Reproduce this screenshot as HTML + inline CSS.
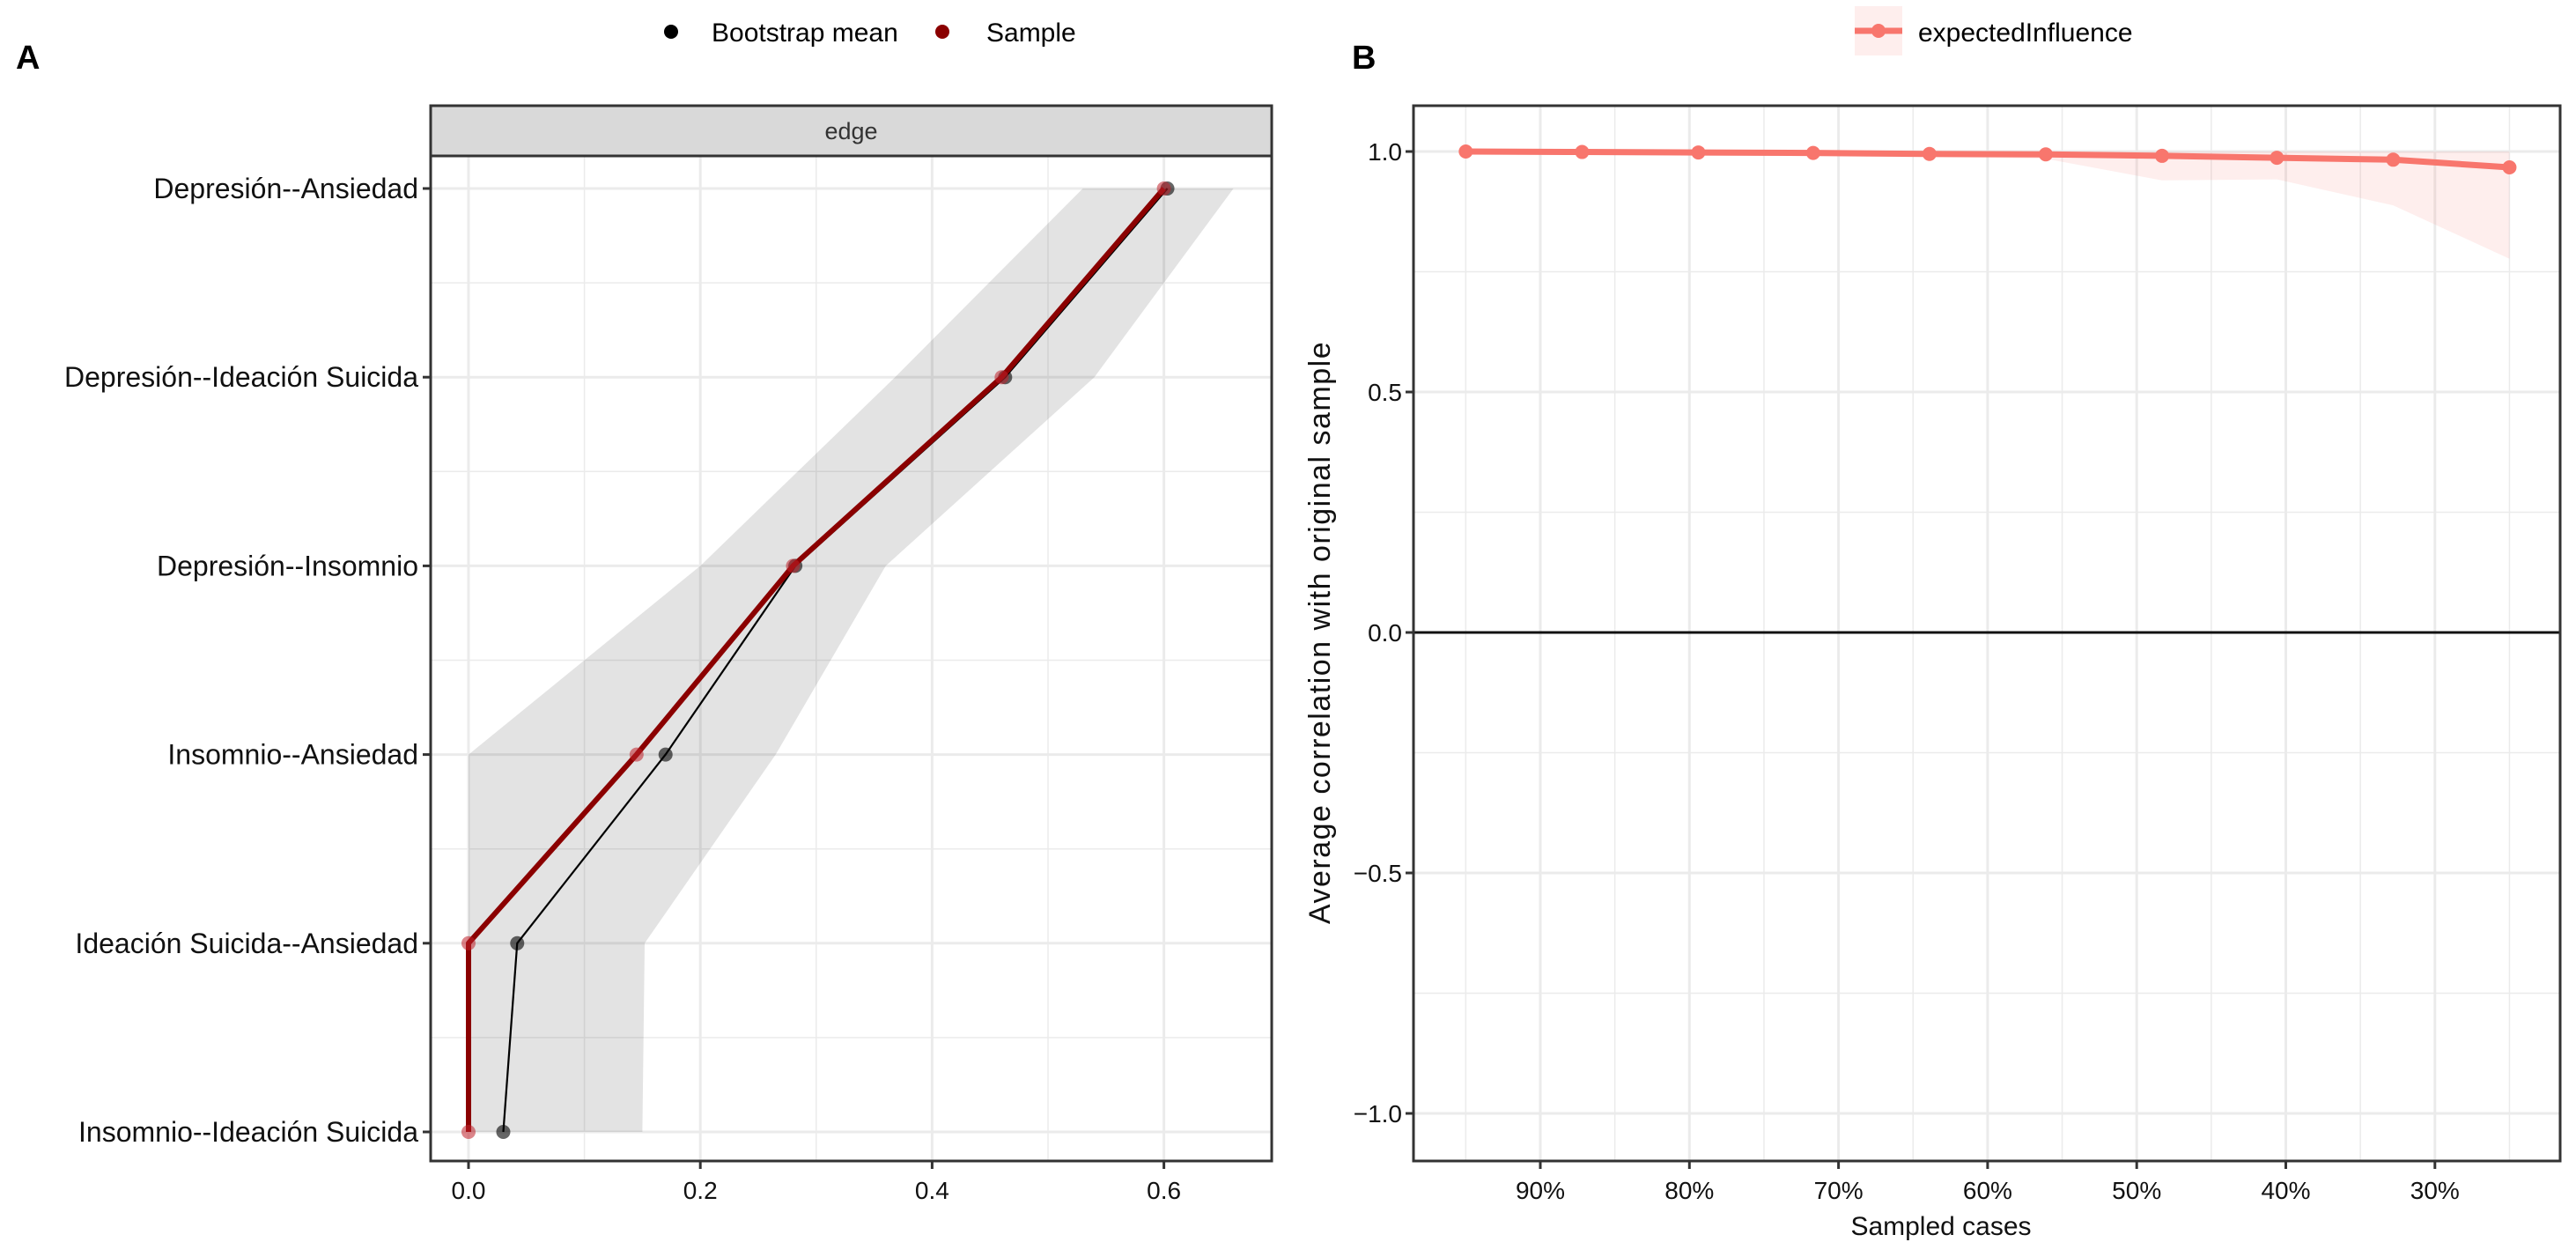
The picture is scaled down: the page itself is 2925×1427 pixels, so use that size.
<!DOCTYPE html>
<html><head><meta charset="utf-8"><style>
html,body{margin:0;padding:0;background:#fff;}
svg{display:block;font-family:"Liberation Sans",Arial,sans-serif;}
</style></head><body>
<svg id="chart" width="2925" height="1427" viewBox="0 0 2925 1427" xmlns="http://www.w3.org/2000/svg">
<g id="pa"></g>
<g id="pb"></g>
</svg>
<script>
// Panel A data
const edges = ["Depresión--Ansiedad","Depresión--Ideación  Suicida","Depresión--Insomnio","Insomnio--Ansiedad","Ideación  Suicida--Ansiedad","Insomnio--Ideación  Suicida"];
const sampleVals = [0.60, 0.46, 0.28, 0.145, 0.0, 0.0];
const bootMean = [0.603, 0.463, 0.282, 0.17, 0.042, 0.03];
const ciLower = [0.53, 0.368, 0.2, 0.0, 0.0, 0.0];
const ciUpper = [0.66, 0.54, 0.36, 0.265, 0.152, 0.15];
const aTicks = [0.0, 0.2, 0.4, 0.6];
const aTickLabels = ["0.0","0.2","0.4","0.6"];
// Panel B data
const sampledPct = [95, 87.2, 79.4, 71.7, 63.9, 56.1, 48.3, 40.6, 32.8, 25];
const eiCorr = [1.0, 0.999, 0.998, 0.997, 0.995, 0.994, 0.991, 0.987, 0.983, 0.967];
const eiLower = [0.997, 0.995, 0.993, 0.99, 0.988, 0.985, 0.94, 0.942, 0.888, 0.777];
const eiUpper = [1.0, 1.0, 1.0, 1.0, 1.0, 1.0, 1.0, 1.0, 1.0, 1.0];
const bXTicks = [90, 80, 70, 60, 50, 40, 30];
const bXTickLabels = ["90%","80%","70%","60%","50%","40%","30%"];
const bYTicks = [1.0, 0.5, 0.0, -0.5, -1.0];
const bYTickLabels = ["1.0","0.5","0.0","\u22120.5","\u22121.0"];

const NS = "http://www.w3.org/2000/svg";
function mk(parent, tag, attrs, text){
  const e = document.createElementNS(NS, tag);
  for (const k in attrs) e.setAttribute(k, attrs[k]);
  if (text !== undefined) e.textContent = text;
  parent.appendChild(e);
  return e;
}
const svg = document.getElementById('chart');
const pa = document.getElementById('pa');
const pb = document.getElementById('pb');

// ---------- Panel A ----------
const AL=489, AR=1444, AT=177, AB=1318;
const ax = v => 532 + (v - 0) * 1316;
const ay = i => 214 + i * 214.2;
let t;
t = mk(svg,'text',{x:18,y:78,'font-size':38,'font-weight':'bold'},'A');
 
let lg = mk(svg,'g',{});
 
let c = mk(lg,'circle',{cx:762,cy:36,r:8,fill:'#000'});
 
t = mk(lg,'text',{x:808,y:47,'font-size':30},'Bootstrap mean');
 
c = mk(lg,'circle',{cx:1070,cy:36,r:8,fill:'#8B0000'});
 
t = mk(lg,'text',{x:1120,y:47,'font-size':30},'Sample');
 
let r = mk(pa,'rect',{x:AL,y:120,width:AR-AL,height:57,fill:'#d9d9d9',stroke:'#333','stroke-width':3});
 
t = mk(pa,'text',{x:(AL+AR)/2,y:158,'font-size':27,'text-anchor':'middle',fill:'#333'},'edge');
 
for (let v=-0.0; v<=0.65; v+=0.1){
  const isMaj = Math.abs(Math.round(v*10)%2)===0;
  const g = mk(pa,'line',{x1:ax(v),x2:ax(v),y1:AT,y2:AB,stroke:'#ebebeb','stroke-width':isMaj?3:1.5});
   
}
edges.forEach((e,i)=>{
  const g = mk(pa,'line',{x1:AL,x2:AR,y1:ay(i),y2:ay(i),stroke:'#ebebeb','stroke-width':3});
   
  if (i<edges.length-1){
    const m = mk(pa,'line',{x1:AL,x2:AR,y1:ay(i+0.5),y2:ay(i+0.5),stroke:'#ebebeb','stroke-width':1.5});
     
  }
});
let pts = ciUpper.map((v,i)=>ax(v)+','+ay(i)).concat(ciLower.map((v,i)=>ax(v)+','+ay(i)).reverse());
let band = mk(pa,'polygon',{points:pts.join(' '),fill:'#000','fill-opacity':0.11});
 
let bl = mk(pa,'polyline',{points:bootMean.map((v,i)=>ax(v)+','+ay(i)).join(' '),fill:'none',stroke:'#000','stroke-width':2.2});
 
bootMean.forEach((v,i)=>{
  const p = mk(pa,'circle',{cx:ax(v),cy:ay(i),r:8,fill:'#000','fill-opacity':0.6});
   
});
let sl = mk(pa,'polyline',{points:sampleVals.map((v,i)=>ax(v)+','+ay(i)).join(' '),fill:'none',stroke:'#8B0000','stroke-width':6,'stroke-linejoin':'round'});
 
sampleVals.forEach((v,i)=>{
  const p = mk(pa,'circle',{cx:ax(v),cy:ay(i),r:8,fill:'#c0202a','fill-opacity':0.55});
   
});
r = mk(pa,'rect',{x:AL,y:AT,width:AR-AL,height:AB-AT,fill:'none',stroke:'#333','stroke-width':3});
 
edges.forEach((e,i)=>{
  const tk = mk(pa,'line',{x1:AL-9,x2:AL,y1:ay(i),y2:ay(i),stroke:'#333','stroke-width':3});
   
  const l = mk(pa,'text',{x:AL-14,y:ay(i)+11,'font-size':32,'text-anchor':'end',fill:'#111','xml:space':'preserve'},e);
   
});
aTicks.forEach((v,i)=>{
  const tk = mk(pa,'line',{x1:ax(v),x2:ax(v),y1:AB,y2:AB+9,stroke:'#333','stroke-width':3});
   
  const l = mk(pa,'text',{x:ax(v),y:AB+43,'font-size':28,'text-anchor':'middle',fill:'#111'},aTickLabels[i]);
   
});

// ---------- Panel B ----------
const BL=1605, BR=2907, BT=120, BB=1318;
const bx = p => 1749 + (90 - p) * 16.93;
const by = v => 718 - v * 546;
t = mk(svg,'text',{x:1535,y:78,'font-size':38,'font-weight':'bold'},'B');
 
let lgb = mk(svg,'g',{});
 
r = mk(lgb,'rect',{x:2106,y:7,width:54,height:56,fill:'#F8766D','fill-opacity':0.12});
 
let kl = mk(lgb,'line',{x1:2106,x2:2160,y1:35,y2:35,stroke:'#F8766D','stroke-width':7});
 
c = mk(lgb,'circle',{cx:2133,cy:35,r:8,fill:'#F8766D'});
 
t = mk(lgb,'text',{x:2178,y:47,'font-size':30},'expectedInfluence');
 
for (let p=95; p>=20; p-=5){
  const maj = p%10===0;
  const g = mk(pb,'line',{x1:bx(p),x2:bx(p),y1:BT,y2:BB,stroke:'#ebebeb','stroke-width':maj?3:1.5});
   
}
[0.75,0.25,-0.25,-0.75].forEach(v=>{
  const g = mk(pb,'line',{x1:BL,x2:BR,y1:by(v),y2:by(v),stroke:'#ebebeb','stroke-width':1.5});
   
});
bYTicks.forEach(v=>{
  const g = mk(pb,'line',{x1:BL,x2:BR,y1:by(v),y2:by(v),stroke:'#ebebeb','stroke-width':3});
   
});
let zl = mk(pb,'line',{x1:BL,x2:BR,y1:by(0),y2:by(0),stroke:'#111','stroke-width':3});
 
pts = eiUpper.map((v,i)=>bx(sampledPct[i])+','+by(v)).concat(eiLower.map((v,i)=>bx(sampledPct[i])+','+by(v)).reverse());
band = mk(pb,'polygon',{points:pts.join(' '),fill:'#F8766D','fill-opacity':0.12});
 
let el = mk(pb,'polyline',{points:eiCorr.map((v,i)=>bx(sampledPct[i])+','+by(v)).join(' '),fill:'none',stroke:'#F8766D','stroke-width':7,'stroke-linejoin':'round'});
 
eiCorr.forEach((v,i)=>{
  const p = mk(pb,'circle',{cx:bx(sampledPct[i]),cy:by(v),r:8,fill:'#F8766D'});
   
});
r = mk(pb,'rect',{x:BL,y:BT,width:BR-BL,height:BB-BT,fill:'none',stroke:'#333','stroke-width':3});
 
bYTicks.forEach((v,i)=>{
  const tk = mk(pb,'line',{x1:BL-9,x2:BL,y1:by(v),y2:by(v),stroke:'#333','stroke-width':3});
   
  const l = mk(pb,'text',{x:BL-13,y:by(v)+10,'font-size':28,'text-anchor':'end',fill:'#111'},bYTickLabels[i]);
   
});
bXTicks.forEach((p,i)=>{
  const tk = mk(pb,'line',{x1:bx(p),x2:bx(p),y1:BB,y2:BB+9,stroke:'#333','stroke-width':3});
   
  const l = mk(pb,'text',{x:bx(p),y:BB+43,'font-size':28,'text-anchor':'middle',fill:'#111'},bXTickLabels[i]);
   
});
t = mk(pb,'text',{x:2204,y:1402,'font-size':30,'text-anchor':'middle',fill:'#111'},'Sampled cases');
 
t = mk(pb,'text',{x:0,y:0,'font-size':34,'letter-spacing':1.5,'text-anchor':'middle',fill:'#111',transform:'translate(1510,718) rotate(-90)'},'Average correlation with original sample');
 
</script>
</body></html>
